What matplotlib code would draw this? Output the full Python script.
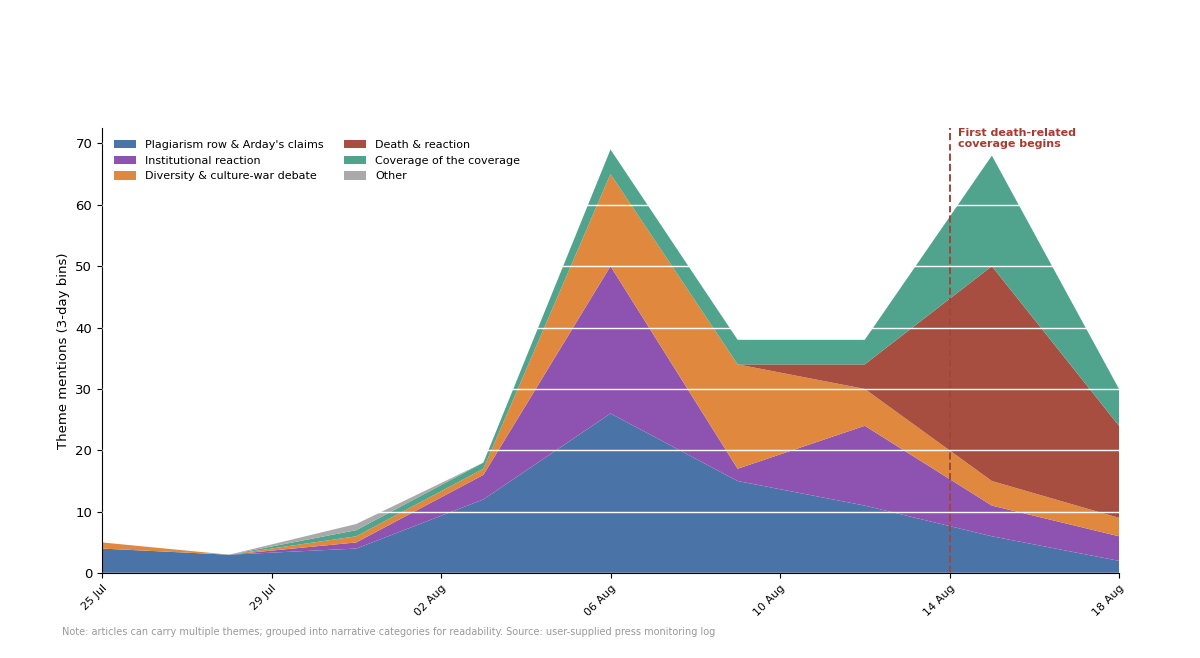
import pandas as pd
import matplotlib.pyplot as plt
import matplotlib.dates as mdates

# -----------------------------------
# DATA (3-day bins)
# -----------------------------------

bins = pd.to_datetime([
    "2023-07-25", "2023-07-28", "2023-07-31", "2023-08-03", "2023-08-06",
    "2023-08-09", "2023-08-12", "2023-08-15", "2023-08-18",
])

plagiarism = [4, 3, 4, 12, 26, 15, 11, 6, 2]
institutional = [0, 0, 1, 4, 24, 2, 13, 5, 4]
diversity = [1, 0, 1, 1, 15, 17, 6, 4, 3]
death = [0, 0, 0, 0, 0, 0, 4, 35, 15]
coverage = [0, 0, 1, 1, 4, 4, 4, 18, 6]
other = [0, 0, 1, 0, 0, 0, 0, 0, 0]

labels = [
    "Plagiarism row & Arday's claims",
    "Institutional reaction",
    "Diversity & culture-war debate",
    "Death & reaction",
    "Coverage of the coverage",
    "Other",
]
colors = ["#4a74a8", "#8e52b0", "#e0893e", "#a84e41", "#50a38c", "#a9a9a9"]

death_start = pd.Timestamp("2023-08-14")

# -----------------------------------
# PLOT
# -----------------------------------

fig = plt.figure(figsize=(12, 6.58), dpi=100)
ax = fig.add_axes([0.085, 0.129, 0.8475, 0.676])

ax.stackplot(
    bins,
    plagiarism, institutional, diversity, death, coverage, other,
    labels=labels,
    colors=colors,
    linewidth=0,
)

ax.axvline(death_start, color="#a0463c", linestyle="--", linewidth=1.4)
ax.text(
    death_start + pd.Timedelta(hours=5), 72.5,
    "First death-related\ncoverage begins",
    color="#a63c30", fontweight="bold", fontsize=8,
    va="top", ha="left", linespacing=1.15,
)

ax.set_xlim(bins[0], bins[-1])
ax.set_ylim(0, 72.45)

ticks = pd.date_range(bins[0], bins[-1], freq="4D")
ax.set_xticks(ticks)
ax.xaxis.set_major_formatter(mdates.DateFormatter("%d %b"))
plt.setp(ax.get_xticklabels(), rotation=45, ha="right", rotation_mode="anchor", fontsize=8)
plt.setp(ax.get_yticklabels(), fontsize=9.5)

ax.set_ylabel("Theme mentions (3-day bins)", fontsize=9.5)

# white gridlines drawn over the areas
ax.yaxis.grid(True, color="white", linewidth=1)
ax.set_axisbelow(False)

ax.spines["top"].set_visible(False)
ax.spines["right"].set_visible(False)

ax.legend(
    loc="upper left",
    ncol=2,
    frameon=False,
    fontsize=8,
    handlelength=2.0,
    handleheight=0.8,
    columnspacing=1.85,
    labelspacing=0.5,
    borderaxespad=0.65,
)

fig.text(
    0.052, 0.035,
    "Note: articles can carry multiple themes; grouped into narrative categories "
    "for readability. Source: user-supplied press monitoring log",
    fontsize=7, color="#999999",
)

plt.savefig("out.png", dpi=100)
